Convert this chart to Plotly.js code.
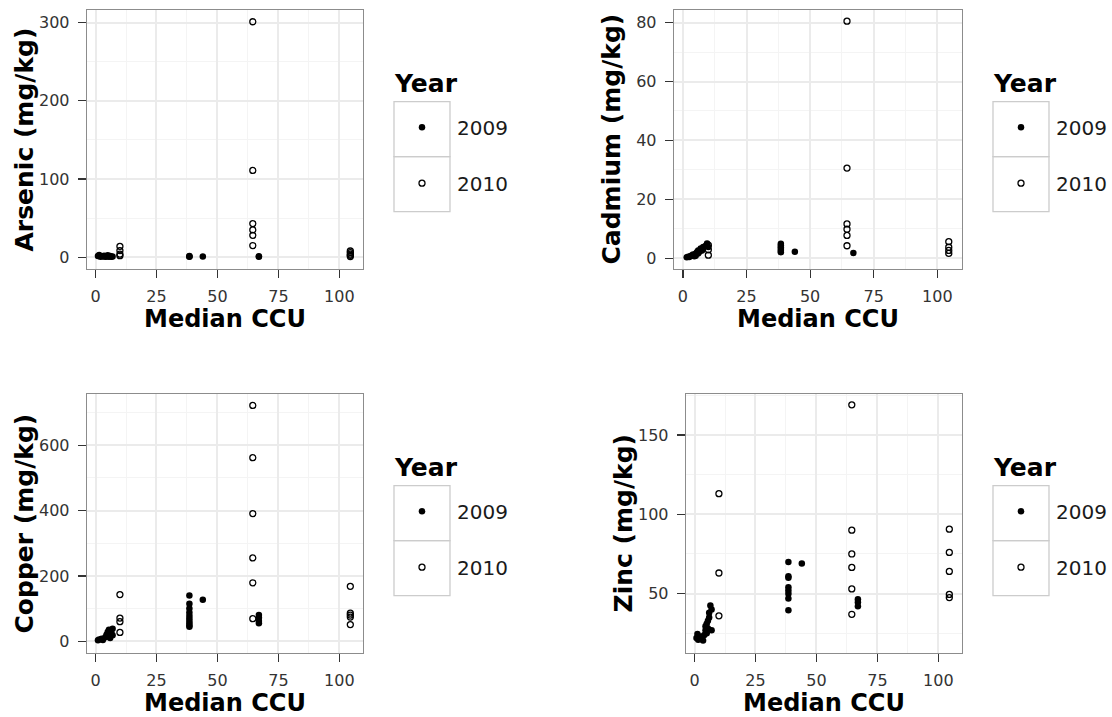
<!DOCTYPE html>
<html>
<head>
<meta charset="utf-8">
<script src="https://cdn.plot.ly/plotly-3.0.1.min.js"></script>
<style>
  html, body { margin: 0; padding: 0; background: #ffffff; }
  #chart { width: 1112px; height: 717px; }
</style>
</head>
<body>
<div id="chart"></div>
<script>
// Metal concentrations against median CCU, by sampling year
const yearLabels = ["2009", "2010"];
const xTicks = [0, 25, 50, 75, 100];
const xMinor = [12.5, 37.5, 62.5, 87.5];

// Arsenic (mg/kg)
const arsenicCcu2009 = [1, 1.5, 2, 3, 3.5, 4, 4.5, 5, 5.5, 6, 6.5, 7, 38.5, 38.5, 38.5, 44, 67, 67];
const arsenic2009 = [1.5, 3, 0.5, 1, 2, 0.5, 1, 2.5, 0.8, 1.5, 0.5, 1, 0.5, 1, 1.5, 1, 0.8, 1.2];
const arsenicCcu2010 = [10, 10, 10, 10, 64.5, 64.5, 64.5, 64.5, 64.5, 64.5, 104.5, 104.5, 104.5, 104.5, 104.5];
const arsenic2010 = [14, 8.5, 4, 2, 301, 111, 43, 35, 28, 15, 8, 6, 4, 2.5, 1];

// Cadmium (mg/kg)
const cadmiumCcu2009 = [1.5, 2, 2.5, 3, 3.5, 4, 4.5, 5, 5, 5.5, 6, 6, 6.5, 7, 7.5, 8, 9, 9.5, 10, 38.5, 38.5, 38.5, 38.5, 38.5, 38.5, 44, 67];
const cadmium2009 = [0.3, 0.5, 0.4, 0.7, 0.9, 1.2, 0.6, 1.5, 0.8, 2.0, 1.6, 2.6, 2.2, 3.3, 2.6, 3.8, 4.2, 5.0, 3.8, 4.9, 4.3, 3.7, 3.1, 2.5, 2.0, 2.2, 1.7];
const cadmiumCcu2010 = [10, 10, 10, 64.5, 64.5, 64.5, 64.5, 64.5, 64.5, 104.5, 104.5, 104.5, 104.5];
const cadmium2010 = [1.0, 2.8, 4.4, 80.5, 30.6, 11.6, 9.8, 7.7, 4.2, 5.6, 3.7, 2.6, 1.6];

// Copper (mg/kg)
const copperCcu2009 = [1, 1.5, 2.5, 3, 4, 4.5, 5, 5, 5.5, 6, 6, 6.5, 7, 7, 38.5, 38.5, 38.5, 38.5, 38.5, 38.5, 38.5, 38.5, 38.5, 38.5, 44, 67, 67, 67, 67];
const copper2009 = [3, 5, 8, 4, 12, 20, 28, 15, 35, 30, 10, 25, 38, 18, 140, 115, 100, 88, 78, 70, 62, 55, 48, 44, 127, 80, 72, 62, 55];
const copperCcu2010 = [10, 10, 10, 10, 64.5, 64.5, 64.5, 64.5, 64.5, 64.5, 104.5, 104.5, 104.5, 104.5, 104.5];
const copper2010 = [143, 71, 60, 27, 722, 562, 391, 255, 179, 69, 168, 86, 80, 74, 51];

// Zinc (mg/kg)
const zincCcu2009 = [0.8, 1.2, 1.5, 2.5, 3, 3.5, 4, 4.5, 4.5, 5, 5, 5.5, 5.5, 6, 6, 6.5, 7, 7, 38.5, 38.5, 38.5, 38.5, 38.5, 38.5, 38.5, 38.5, 44, 67, 67, 67];
const zinc2009 = [22, 24.5, 21, 23, 21.5, 20.5, 24, 27, 29.5, 25, 31, 33, 28, 35, 38, 42.5, 40, 27, 70, 61, 60, 54, 52, 50, 47, 39.5, 69, 46.5, 44.5, 42];
const zincCcu2010 = [10, 10, 10, 64.5, 64.5, 64.5, 64.5, 64.5, 64.5, 104.5, 104.5, 104.5, 104.5, 104.5];
const zinc2010 = [113, 63, 36, 169, 90, 75, 66.5, 53, 37, 90.6, 76, 64, 49.5, 47.5];

const W = 1112, H = 717;
const FONT = "DejaVu Sans";
const px = v => v / W;
const py = v => 1 - v / H;

// panel frames in pixels: [left, right, top, bottom]
const panels = [
  { title: "Arsenic (mg/kg)", frame: [87, 363, 10, 269], yr: [-15, 316], yt: 100, ym: [50, 150, 250],
    x09: arsenicCcu2009, y09: arsenic2009, x10: arsenicCcu2010, y10: arsenic2010 },
  { title: "Cadmium (mg/kg)", frame: [674, 962, 10, 269], yr: [-3.7, 84.3], yt: 20, ym: [10, 30, 50, 70],
    x09: cadmiumCcu2009, y09: cadmium2009, x10: cadmiumCcu2010, y10: cadmium2010 },
  { title: "Copper (mg/kg)", frame: [87, 363, 394, 653], yr: [-36, 757], yt: 200, ym: [100, 300, 500, 700],
    x09: copperCcu2009, y09: copper2009, x10: copperCcu2010, y10: copper2010 },
  { title: "Zinc (mg/kg)", frame: [686, 962, 394, 653], yr: [12.6, 175.8], yt: 50, ym: [25, 75, 125, 175],
    x09: zincCcu2009, y09: zinc2009, x10: zincCcu2010, y10: zinc2010 }
];

const traces = [];
const layout = {
  width: W, height: H,
  margin: { l: 0, r: 0, t: 0, b: 0 },
  paper_bgcolor: "#ffffff",
  plot_bgcolor: "#ffffff",
  font: { family: FONT, color: "#4d4d4d" },
  showlegend: true,
  shapes: [],
  annotations: []
};

panels.forEach((p, i) => {
  const n = i + 1;
  const sfx = n === 1 ? "" : String(n);
  const xa = "x" + sfx, ya = "y" + sfx;
  const legendId = "legend" + sfx;
  const [L, R, T, B] = p.frame;

  traces.push({
    type: "scatter", mode: "markers", x: p.x09, y: p.y09, xaxis: xa, yaxis: ya,
    name: yearLabels[0], legend: legendId, legendgroup: "a" + n,
    marker: { symbol: "circle", size: 6.5, color: "#000000" },
    hoverinfo: "x+y"
  });
  traces.push({
    type: "scatter", mode: "markers", x: p.x10, y: p.y10, xaxis: xa, yaxis: ya,
    name: yearLabels[1], legend: legendId, legendgroup: "b" + n,
    marker: { symbol: "circle-open", size: 6, color: "#000000", line: { width: 1.3, color: "#000000" } },
    hoverinfo: "x+y"
  });

  const axisCommon = {
    showline: true, mirror: true, linecolor: "#8c8c8c", linewidth: 1.3,
    ticks: "outside", ticklen: 8, tickwidth: 1.2, tickcolor: "#333333",
    showgrid: true, gridcolor: "#ebebeb", gridwidth: 2,
    zeroline: false, fixedrange: true,
    tickfont: { family: FONT, size: 16, color: "#333333" }
  };
  layout["xaxis" + sfx] = Object.assign({}, axisCommon, {
    domain: [px(L), px(R)], anchor: ya, range: [-3.5, 109.7],
    tickmode: "array", tickvals: xTicks, ticktext: xTicks.map(String),
    ticklabelstandoff: 4,
    minor: { tickmode: "array", tickvals: xMinor, showgrid: true, gridcolor: "#f4f4f4", gridwidth: 1, ticks: "" }
  });
  layout["yaxis" + sfx] = Object.assign({}, axisCommon, {
    domain: [py(B), py(T)], anchor: xa, range: p.yr,
    tickmode: "linear", tick0: 0, dtick: p.yt,
    ticklabelstandoff: 5,
    minor: { tickmode: "array", tickvals: p.ym, showgrid: true, gridcolor: "#f4f4f4", gridwidth: 1, ticks: "" }
  });

  // axis titles
  layout.annotations.push({
    xref: "paper", yref: "paper", x: px((L + R) / 2), y: py(B + 50),
    text: "<b>Median CCU</b>", showarrow: false, xanchor: "center", yanchor: "middle",
    font: { family: FONT, size: 24, color: "#000000" }
  });
  layout.annotations.push({
    xref: "paper", yref: "paper", x: px(L - 63), y: py((T + B) / 2),
    text: "<b>" + p.title + "</b>", showarrow: false, textangle: -90,
    xanchor: "center", yanchor: "middle",
    font: { family: FONT, size: 25, color: "#000000" }
  });

  // legend: title, key boxes and items
  const gx = R + 31, gy = T + 91.7;
  layout.annotations.push({
    xref: "paper", yref: "paper", x: px(gx - 2), y: py(T + 73),
    text: "<b>Year</b>", showarrow: false, xanchor: "left", yanchor: "middle",
    font: { family: FONT, size: 25, color: "#000000" }
  });
  [0, 1].forEach(k => {
    layout.shapes.push({
      type: "rect", xref: "paper", yref: "paper",
      x0: px(gx), x1: px(gx + 56), y0: py(gy + 55 * k), y1: py(gy + 55 * (k + 1)),
      line: { color: "#cccccc", width: 1.3 }, fillcolor: "rgba(0,0,0,0)"
    });
  });
  layout[legendId] = {
    x: px(gx - 7), y: py(gy + 6), xanchor: "left", yanchor: "top",
    bgcolor: "rgba(0,0,0,0)", borderwidth: 0,
    itemwidth: 60, tracegroupgap: 27, traceorder: "grouped",
    font: { family: FONT, size: 20, color: "#1a1a1a" }
  };
});

Plotly.newPlot("chart", traces, layout, { staticPlot: true, displayModeBar: false });
</script>
</body>
</html>
